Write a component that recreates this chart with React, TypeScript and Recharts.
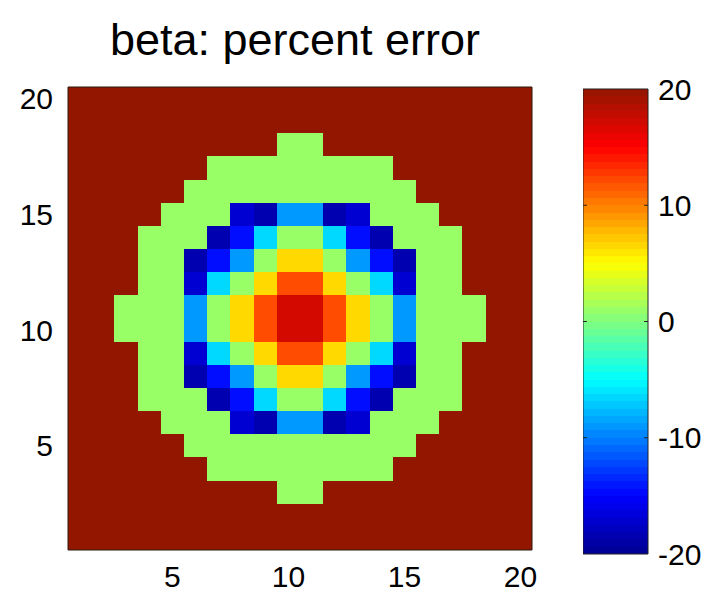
import { ComposedChart, XAxis, YAxis, ReferenceArea, ReferenceLine, Scatter } from 'recharts';

const xTicks = [5, 10, 15, 20];
const yTicks = [5, 10, 15, 20];
const colorTicks = [-20, -10, 0, 10, 20];
const colorLimits = [-20, 20];
const colorLevels = 64;

// percent error, rows from y = 20 (top) down to y = 1, columns x = 1..20
const percentError = [
  [20, 20, 20, 20, 20, 20, 20, 20, 20, 20, 20, 20, 20, 20, 20, 20, 20, 20, 20, 20],
  [20, 20, 20, 20, 20, 20, 20, 20, 20, 20, 20, 20, 20, 20, 20, 20, 20, 20, 20, 20],
  [20, 20, 20, 20, 20, 20, 20, 20, 20, 1, 1, 20, 20, 20, 20, 20, 20, 20, 20, 20],
  [20, 20, 20, 20, 20, 20, 1, 1, 1, 1, 1, 1, 1, 1, 20, 20, 20, 20, 20, 20],
  [20, 20, 20, 20, 20, 1, 1, 1, 1, 1, 1, 1, 1, 1, 1, 20, 20, 20, 20, 20],
  [20, 20, 20, 20, 1, 1, 1, -17, -18.5, -9, -9, -18.5, -17, 1, 1, 1, 20, 20, 20, 20],
  [20, 20, 20, 1, 1, 1, -18.5, -14.5, -6.5, 1, 1, -6.5, -14.5, -18.5, 1, 1, 1, 20, 20, 20],
  [20, 20, 20, 1, 1, -18.5, -14.5, -9, 1, 6.5, 6.5, 1, -9, -14.5, -18.5, 1, 1, 20, 20, 20],
  [20, 20, 20, 1, 1, -17, -6.5, 1, 6.5, 12, 12, 6.5, 1, -6.5, -17, 1, 1, 20, 20, 20],
  [20, 20, 1, 1, 1, -9, 1, 6.5, 12, 17, 17, 12, 6.5, 1, -9, 1, 1, 1, 20, 20],
  [20, 20, 1, 1, 1, -9, 1, 6.5, 12, 17, 17, 12, 6.5, 1, -9, 1, 1, 1, 20, 20],
  [20, 20, 20, 1, 1, -17, -6.5, 1, 6.5, 12, 12, 6.5, 1, -6.5, -17, 1, 1, 20, 20, 20],
  [20, 20, 20, 1, 1, -18.5, -14.5, -9, 1, 6.5, 6.5, 1, -9, -14.5, -18.5, 1, 1, 20, 20, 20],
  [20, 20, 20, 1, 1, 1, -18.5, -14.5, -6.5, 1, 1, -6.5, -14.5, -18.5, 1, 1, 1, 20, 20, 20],
  [20, 20, 20, 20, 1, 1, 1, -17, -18.5, -9, -9, -18.5, -17, 1, 1, 1, 20, 20, 20, 20],
  [20, 20, 20, 20, 20, 1, 1, 1, 1, 1, 1, 1, 1, 1, 1, 20, 20, 20, 20, 20],
  [20, 20, 20, 20, 20, 20, 1, 1, 1, 1, 1, 1, 1, 1, 20, 20, 20, 20, 20, 20],
  [20, 20, 20, 20, 20, 20, 20, 20, 20, 1, 1, 20, 20, 20, 20, 20, 20, 20, 20, 20],
  [20, 20, 20, 20, 20, 20, 20, 20, 20, 20, 20, 20, 20, 20, 20, 20, 20, 20, 20, 20],
  [20, 20, 20, 20, 20, 20, 20, 20, 20, 20, 20, 20, 20, 20, 20, 20, 20, 20, 20, 20],
];

// jet-like colormap stops (position 0..1, rgb)
const jetStops: [number, number[]][] = [
  [0, [0, 0, 143]],
  [0.125, [0, 0, 255]],
  [0.375, [0, 255, 255]],
  [0.625, [255, 255, 0]],
  [0.875, [255, 0, 0]],
  [1, [146, 22, 0]],
];

function jet(v: number) {
  const t = Math.min(1, Math.max(0, (v - colorLimits[0]) / (colorLimits[1] - colorLimits[0])));
  for (let i = 1; i < jetStops.length; i++) {
    const [t1, c1] = jetStops[i];
    const [t0, c0] = jetStops[i - 1];
    if (t <= t1) {
      const f = (t - t0) / (t1 - t0);
      const c = c0.map((a, k) => Math.round(a + (c1[k] - a) * f));
      return `rgb(${c[0]},${c[1]},${c[2]})`;
    }
  }
  return 'rgb(146,22,0)';
}

const nRows = percentError.length;
const cells = percentError.flatMap((row, r) =>
  row.map((v, c) => ({ x: c + 1, y: nRows - r, v }))
);

const levelStep = (colorLimits[1] - colorLimits[0]) / colorLevels;
const levels = Array.from({ length: colorLevels }, (_, i) => {
  const lo = colorLimits[0] + i * levelStep;
  return { lo, hi: lo + levelStep, color: jet(lo + levelStep / 2) };
});

const font = '"Liberation Sans", Arial, Helvetica, sans-serif';
const tickStyle = { fontSize: 30, fill: '#000', fontFamily: font };
const hidden = () => <g />;

// flat tile with no anti-aliased seams
const tile = (color: string) => (p: any) => (
  <rect x={p.x} y={p.y} width={p.width} height={p.height} fill={color} shapeRendering="crispEdges" />
);

export default function App() {
  return (
    <div style={{ position: 'absolute', left: 0, top: 0, width: 712, height: 595, background: '#fff' }}>
      <div style={{
        position: 'absolute', left: 0, top: 17, width: 590, textAlign: 'center',
        fontFamily: font, fontSize: 45, lineHeight: 1, color: '#000',
      }}>
        beta: percent error
      </div>

      {/* main heatmap */}
      <div style={{ position: 'absolute', left: 0, top: 0 }}>
        <ComposedChart width={560} height={595} margin={{ top: 87, right: 28, bottom: 0, left: 0 }}>
          <XAxis
            type="number"
            dataKey="x"
            domain={[0.5, 20.5]}
            allowDataOverflow
            ticks={xTicks}
            tick={tickStyle}
            tickLine={false}
            axisLine={false}
            tickMargin={10}
            height={45}
          />
          <YAxis
            type="number"
            dataKey="y"
            domain={[0.5, 20.5]}
            allowDataOverflow
            ticks={yTicks}
            tick={tickStyle}
            tickLine={false}
            axisLine={false}
            tickMargin={9}
            width={68}
          />
          <Scatter data={cells} shape={hidden} isAnimationActive={false} />
          {cells.map((c) => (
            <ReferenceArea
              key={`${c.x}-${c.y}`}
              x1={c.x - 0.5}
              x2={c.x + 0.5}
              y1={c.y - 0.5}
              y2={c.y + 0.5}
              shape={tile(jet(c.v))}
              ifOverflow="visible"
            />
          ))}
          <ReferenceArea x1={0.5} x2={20.5} y1={0.5} y2={20.5} fill="none" stroke="#2a1a10" strokeWidth={1} ifOverflow="visible" />
        </ComposedChart>
      </div>

      {/* colorbar */}
      <div style={{ position: 'absolute', left: 583, top: 0 }}>
        <ComposedChart width={129} height={595} margin={{ top: 89, right: 0, bottom: 41, left: 0 }}>
          <XAxis type="number" dataKey="x" domain={[0, 1]} hide />
          <YAxis
            type="number"
            dataKey="y"
            orientation="right"
            domain={colorLimits}
            allowDataOverflow
            ticks={colorTicks}
            tick={tickStyle}
            tickLine={false}
            axisLine={false}
            tickMargin={4}
            width={64}
          />
          <Scatter data={[{ x: 0, y: colorLimits[0] }, { x: 1, y: colorLimits[1] }]} shape={hidden} isAnimationActive={false} />
          {levels.map((l, i) => (
            <ReferenceArea
              key={i}
              x1={0}
              x2={1}
              y1={l.lo}
              y2={l.hi}
              shape={tile(l.color)}
              ifOverflow="visible"
            />
          ))}
          {colorTicks.slice(1, -1).map((t) => (
            <ReferenceLine key={`l${t}`} segment={[{ x: 0, y: t }, { x: 0.06, y: t }]} stroke="#222" ifOverflow="visible" />
          ))}
          {colorTicks.slice(1, -1).map((t) => (
            <ReferenceLine key={`r${t}`} segment={[{ x: 0.94, y: t }, { x: 1, y: t }]} stroke="#222" ifOverflow="visible" />
          ))}
          <ReferenceArea x1={0} x2={1} y1={colorLimits[0]} y2={colorLimits[1]} fill="none" stroke="#222" strokeWidth={1} ifOverflow="visible" />
        </ComposedChart>
      </div>
    </div>
  );
}
